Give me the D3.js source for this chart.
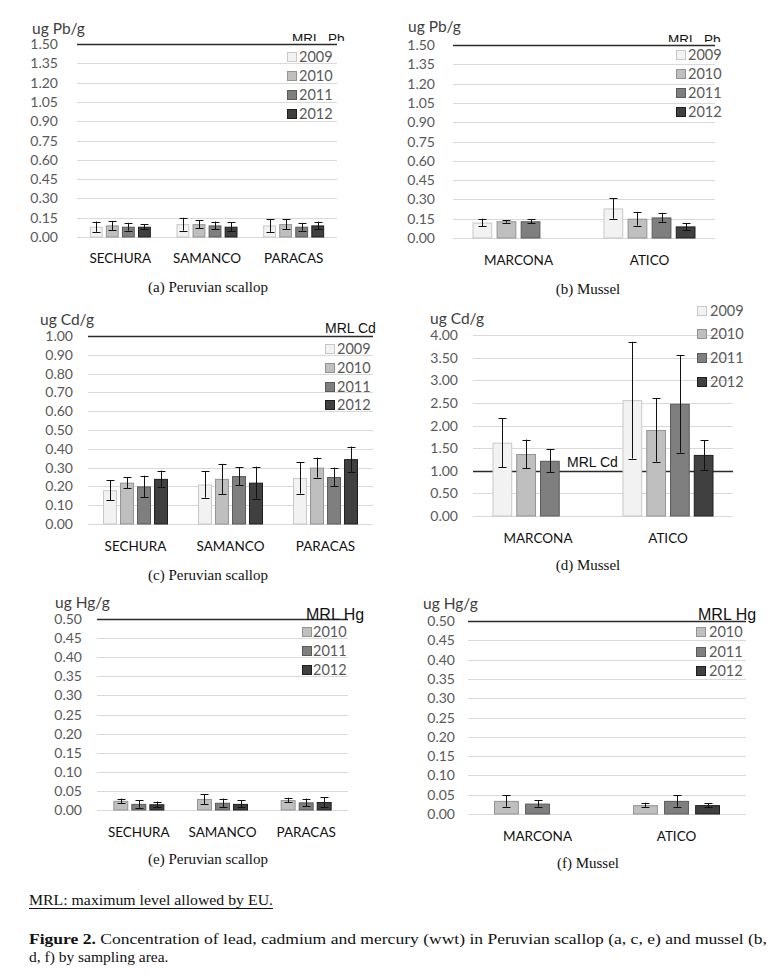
<!DOCTYPE html>
<html><head><meta charset="utf-8">
<script src="https://cdn.jsdelivr.net/npm/d3@7"></script>
<style>body{margin:0;background:#fff;} svg{display:block;}</style>
</head><body>
<svg id="chart" width="784" height="978"></svg>
<script>
// ---------- DATA ----------
const years4 = ["2009","2010","2011","2012"];
const years3 = ["2010","2011","2012"];
const scallopSites = ["SECHURA","SAMANCO","PARACAS"];
const musselSites = ["MARCONA","ATICO"];

const pbTicks = [0,0.15,0.30,0.45,0.60,0.75,0.90,1.05,1.20,1.35,1.50];
const cdScallopTicks = [0,0.1,0.2,0.3,0.4,0.5,0.6,0.7,0.8,0.9,1.0];
const cdMusselTicks = [0,0.5,1.0,1.5,2.0,2.5,3.0,3.5,4.0];
const hgTicks = [0,0.05,0.10,0.15,0.20,0.25,0.30,0.35,0.40,0.45,0.50];

// values per site, per year (null = not sampled)
const pbScallopMean = [[0.08,0.09,0.08,0.08],[0.10,0.10,0.09,0.08],[0.09,0.10,0.08,0.09]];
const pbScallopErr  = [[0.04,0.035,0.03,0.02],[0.05,0.03,0.03,0.035],[0.05,0.04,0.03,0.03]];
const pbMusselMean  = [[0.12,0.13,0.13,null],[0.23,0.15,0.16,0.09]];
const pbMusselErr   = [[0.03,0.01,0.015,null],[0.08,0.053,0.035,0.025]];
const cdScallopMean = [[0.18,0.22,0.20,0.24],[0.21,0.24,0.255,0.22],[0.245,0.30,0.25,0.345]];
const cdScallopErr  = [[0.053,0.03,0.057,0.044],[0.07,0.08,0.047,0.085],[0.083,0.053,0.05,0.067]];
const cdMusselMean  = [[1.62,1.37,1.22,null],[2.56,1.90,2.48,1.35]];
const cdMusselErr   = [[0.54,0.32,0.25,null],[1.29,0.70,1.08,0.33]];
const hgScallopMean = [[0.024,0.016,0.015],[0.029,0.019,0.016],[0.026,0.020,0.021]];
const hgScallopErr  = [[0.006,0.010,0.007],[0.013,0.011,0.009],[0.006,0.010,0.013]];
const hgMusselMean  = [[0.034,0.027,null],[0.023,0.034,0.023]];
const hgMusselErr   = [[0.015,0.008,null],[0.006,0.015,0.005]];

const mrlPb = 1.5, mrlCd = 1.0, mrlHg = 0.5;

const yearFill = {"2009":"#f2f2f2","2010":"#bfbfbf","2011":"#7f7f7f","2012":"#404040"};
const yearStroke = {"2009":"#c8c8c8","2010":"#939393","2011":"#5a5a5a","2012":"#1e1e1e"};

// ---------- DRAW ----------
const svg = d3.select("#chart");
const defs = svg.append("defs");
const sansUI = "Lato, 'Open Sans', sans-serif";
const arial = "'Liberation Sans', Arial, sans-serif";
const serif = "'Liberation Serif', 'Times New Roman', serif";

function panel(o){
  const g = svg.append("g");
  const y = d3.scaleLinear().domain([0, o.ticks[o.ticks.length-1]]).range([o.y0, o.yTop]);
  const x0 = d3.scaleBand().domain(o.sites).range([o.left, o.right]);
  const x1 = d3.scaleBand().domain(o.years).range([0, o.gw]).paddingInner(o.pad);

  // gridlines + tick labels
  g.selectAll(".grid").data(o.ticks).join("line")
    .attr("x1", o.left).attr("x2", o.right)
    .attr("y1", d=>Math.round(y(d))+0.5).attr("y2", d=>Math.round(y(d))+0.5)
    .attr("stroke", "#d9d9d9").attr("stroke-width", 1);
  g.selectAll(".tl").data(o.ticks).join("text")
    .attr("x", o.labelX).attr("y", d=>y(d)+5)
    .attr("text-anchor","end").attr("font-family", sansUI).attr("font-size", 14)
    .attr("fill","#595959").text(d=>d.toFixed(2));

  // axis title
  g.append("text").attr("x", o.titleX).attr("y", o.titleY-1.5)
    .attr("font-family", sansUI).attr("font-size", 15.5).attr("fill","#404040").text(o.title);

  // MRL line
  g.append("line").attr("x1", o.left).attr("x2", o.mrlRight || o.right)
    .attr("y1", Math.round(y(o.mrl))+0.5).attr("y2", Math.round(y(o.mrl))+0.5)
    .attr("stroke","#2a2a2a").attr("stroke-width",1.3);

  // bars
  const rows = [];
  o.sites.forEach((s,i)=>o.years.forEach((yr,j)=>{
    const v = o.mean[i][j];
    if(v!=null) rows.push({site:s, year:yr, v:v, e:o.err[i][j]});
  }));
  const off = (x0.bandwidth()-o.gw)/2;
  const bx = d => x0(d.site)+off+x1(d.year);
  g.selectAll(".bar").data(rows).join("rect")
    .attr("x", d=>bx(d)+0.5).attr("y", d=>y(d.v)+0.5)
    .attr("width", x1.bandwidth()-1).attr("height", d=>o.y0-y(d.v)-0.5)
    .attr("fill", d=>yearFill[d.year]).attr("stroke", d=>yearStroke[d.year]).attr("stroke-width",1);
  // error bars
  const eb = g.selectAll(".eb").data(rows).join("g");
  const cx = d => Math.round(bx(d)+x1.bandwidth()/2)+0.5;
  eb.append("line").attr("x1",cx).attr("x2",cx)
    .attr("y1", d=>y(d.v+d.e)).attr("y2", d=>y(Math.max(0,d.v-d.e)))
    .attr("stroke","#111").attr("stroke-width",1);
  [1,-1].forEach(sg=>{
    eb.append("line").attr("x1",d=>cx(d)-4).attr("x2",d=>cx(d)+4)
      .attr("y1", d=>Math.round(y(Math.max(0,d.v+sg*d.e)))+0.5)
      .attr("y2", d=>Math.round(y(Math.max(0,d.v+sg*d.e)))+0.5)
      .attr("stroke","#111").attr("stroke-width",1);
  });

  // category labels
  g.selectAll(".cat").data(o.sites).join("text")
    .attr("x", d=>x0(d)+x0.bandwidth()/2).attr("y", o.catY)
    .attr("text-anchor","middle").attr("font-family", sansUI).attr("font-size", 13.5)
    .attr("fill","#111").text(d=>d);

  // MRL label
  const ml = g.append("text").attr("x", o.mrlX).attr("y", o.mrlY)
    .attr("font-family", arial).attr("font-size", o.mrlSize).attr("fill","#111").text(o.mrlText);
  if(o.clipY!=null){
    const id = "clip"+o.id;
    defs.append("clipPath").attr("id", id).append("rect")
      .attr("x", o.mrlX-2).attr("y", o.clipY-30).attr("width", 80).attr("height", 30);
    ml.attr("clip-path", `url(#${id})`);
  }

  // legend
  const lg = g.selectAll(".lg").data(o.years).join("g")
    .attr("transform",(d,i)=>`translate(${o.legX},${o.legY[i]})`);
  lg.append("rect").attr("x",0.5).attr("y",-4.5).attr("width",9).attr("height",9)
    .attr("fill", d=>yearFill[d]).attr("stroke", d=>yearStroke[d]);
  lg.append("text").attr("x", o.legTX-o.legX).attr("y", 5)
    .attr("font-family", sansUI).attr("font-size", 14.5).attr("fill","#595959").text(d=>d);

  // caption
  g.append("text").attr("x", o.capX).attr("y", o.capY).attr("text-anchor","middle")
    .attr("font-family", serif).attr("font-size", 15).attr("fill","#111").text(o.caption);
}

panel({id:"a", sites:scallopSites, years:years4, mean:pbScallopMean, err:pbScallopErr, ticks:pbTicks,
  left:77, right:337, y0:237, yTop:44, gw:61, pad:0.2, labelX:58, title:"ug Pb/g", titleX:32, titleY:35,
  mrl:mrlPb, mrlText:"MRL_Pb", mrlX:292, mrlY:43, mrlSize:13.5, clipY:41,
  legX:287, legTX:299, legY:[57,76,95,114], catY:263, caption:"(a) Peruvian scallop", capX:208, capY:292});
panel({id:"b", sites:musselSites, years:years4, mean:pbMusselMean, err:pbMusselErr, ticks:pbTicks,
  left:453, right:715, y0:238, yTop:45, gw:92, pad:0.18, labelX:435, title:"ug Pb/g", titleX:408, titleY:33,
  mrl:mrlPb, mrlText:"MRL_Pb", mrlX:668, mrlY:44, mrlSize:13.5, clipY:42,
  legX:676, legTX:688, legY:[55,74,93,112], catY:265, caption:"(b) Mussel", capX:588, capY:294});
panel({id:"c", sites:scallopSites, years:years4, mean:cdScallopMean, err:cdScallopErr, ticks:cdScallopTicks,
  left:88, right:373, y0:524, yTop:336, gw:65, pad:0.18, labelX:73, title:"ug Cd/g", titleX:40, titleY:326,
  mrl:mrlCd, mrlText:"MRL Cd", mrlX:325, mrlY:333, mrlSize:14,
  legX:325, legTX:337, legY:[349,368,387,405], catY:551, caption:"(c) Peruvian scallop", capX:208, capY:580});
panel({id:"d", sites:musselSites, years:years4, mean:cdMusselMean, err:cdMusselErr, ticks:cdMusselTicks,
  left:473, right:733, y0:516, yTop:335, gw:91, pad:0.17, labelX:458, title:"ug Cd/g", titleX:430, titleY:325,
  mrl:mrlCd, mrlText:"MRL Cd", mrlX:567, mrlY:467, mrlSize:14,
  legX:697, legTX:710, legY:[311,334,358,382], catY:543, caption:"(d) Mussel", capX:588, capY:570});
panel({id:"e", sites:scallopSites, years:years3, mean:hgScallopMean, err:hgScallopErr, ticks:hgTicks,
  left:97, right:348, y0:810, yTop:619, gw:51, pad:0.17, labelX:82, title:"ug Hg/g", titleX:55, titleY:609,
  mrl:mrlHg, mrlText:"MRL Hg", mrlX:306, mrlY:620, mrlSize:16,
  legX:302, legTX:313, legY:[632,651,670], catY:837, caption:"(e) Peruvian scallop", capX:208, capY:864});
panel({id:"f", sites:musselSites, years:years3, mean:hgMusselMean, err:hgMusselErr, ticks:hgTicks,
  left:468, right:746, y0:814, yTop:621, gw:87, pad:0.2, labelX:455, title:"ug Hg/g", titleX:423, titleY:610,
  mrl:mrlHg, mrlText:"MRL Hg", mrlX:698, mrlY:620, mrlSize:16,
  legX:696, legTX:709, legY:[632,652,671], catY:841, caption:"(f) Mussel", capX:588, capY:868});

// footnotes
svg.append("text").attr("x",29).attr("y",905).attr("font-family",serif).attr("font-size",15)
  .attr("fill","#111").attr("textLength",244).attr("lengthAdjust","spacingAndGlyphs")
  .text("MRL: maximum level allowed by EU.");
svg.append("line").attr("x1",29).attr("x2",273).attr("y1",908.5).attr("y2",908.5).attr("stroke","#111");
const f1 = svg.append("text").attr("x",29).attr("y",944).attr("font-family",serif).attr("font-size",15.5)
  .attr("fill","#111").attr("textLength",738).attr("lengthAdjust","spacingAndGlyphs");
f1.append("tspan").attr("font-weight","bold").text("Figure 2.");
f1.append("tspan").text(" Concentration of lead, cadmium and mercury (wwt) in Peruvian scallop (a, c, e) and mussel (b,");
svg.append("text").attr("x",29).attr("y",962).attr("font-family",serif).attr("font-size",15.5)
  .attr("fill","#111").text("d, f) by sampling area.");
</script>
</body></html>
